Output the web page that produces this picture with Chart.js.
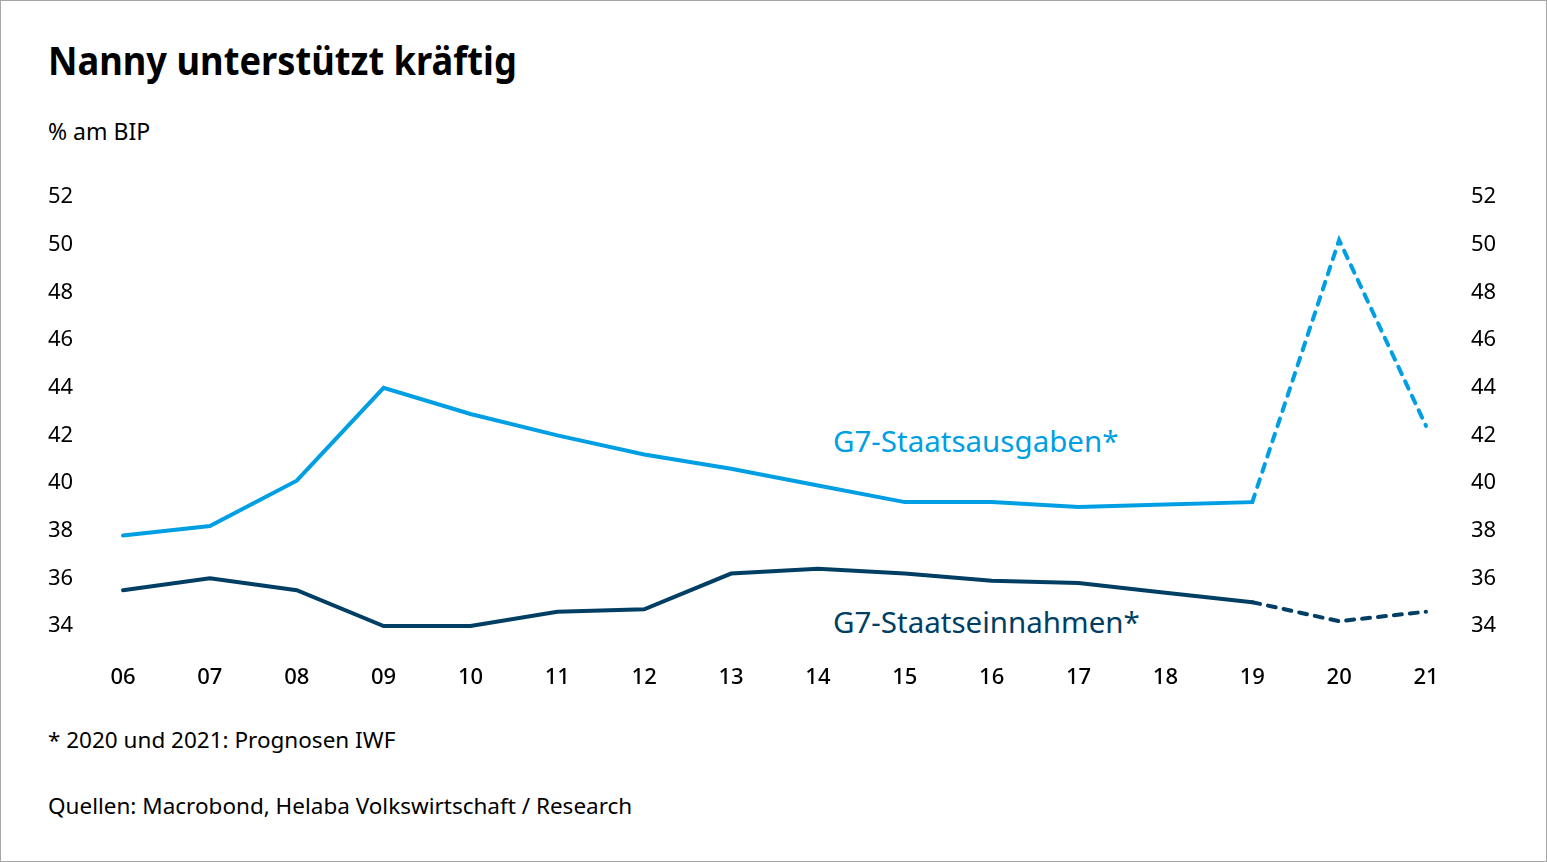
<!DOCTYPE html>
<html>
<head>
<meta charset="utf-8">
<script src="https://cdn.jsdelivr.net/npm/chart.js@4.4.1/dist/chart.umd.min.js"></script>
<style>
  html, body { margin: 0; padding: 0; background: #fff; }
  body {
    width: 1547px; height: 862px; position: relative; overflow: hidden;
    box-sizing: border-box; border: 1px solid #a6a6a6;
    font-family: "Noto Sans", sans-serif; color: #000;
  }
  .txt { position: absolute; white-space: nowrap; }
  #title { left: 47px; top: 32px; font-size: 39px; font-weight: 700; transform-origin: left top; transform: scaleX(0.93); }
  #unit { left: 47px; top: 114px; font-size: 23px; }
  #note { left: 47px; top: 723px; font-size: 22.5px; }
  #source { left: 47px; top: 789px; font-size: 22.5px; }
  .lbl { font-size: 29.5px; }
  #lblOut { left: 832px; top: 419px; color: #009fe3; }
  #lblIn { left: 832px; top: 600px; color: #003f63; }
  #wrap { position: absolute; left: 47px; top: 146px; width: 1483px; height: 559px; }
</style>
</head>
<body>
<div class="txt" id="title">Nanny unterstützt kräftig</div>
<div class="txt" id="unit">% am BIP</div>
<div class="txt lbl" id="lblOut">G7-Staatsausgaben*</div>
<div class="txt lbl" id="lblIn">G7-Staatseinnahmen*</div>
<div class="txt" id="note">* 2020 und 2021: Prognosen IWF</div>
<div class="txt" id="source">Quellen: Macrobond, Helaba Volkswirtschaft / Research</div>
<div id="wrap"><canvas id="chart"></canvas></div>
<script>
// Years (two-digit labels)
const years = ['06', '07', '08', '09', '10', '11', '12', '13', '14', '15', '16', '17', '18', '19', '20', '21'];

// G7 government spending and revenue, % of GDP (2020/21 = IMF forecasts)
const ausgaben = [37.8, 38.2, 40.1, 44.0, 42.9, 42.0, 41.2, 40.6, 39.9, 39.2, 39.2, 39.0, 39.1, 39.2, 50.2, 42.4];
const einnahmen = [35.5, 36.0, 35.5, 34.0, 34.0, 34.6, 34.7, 36.2, 36.4, 36.2, 35.9, 35.8, 35.4, 35.0, 34.2, 34.6];

// Index from which the forecast (dashed) part starts
const forecastFrom = 13;

const yTicks = [34, 36, 38, 40, 42, 44, 46, 48, 50, 52];

const colors = {
    light: '#009fe3',
    dark: '#003f63',
};

const dashForecast = ctx => ctx.p0DataIndex >= forecastFrom ? [8, 8] : undefined;

const tickFont = { family: 'Noto Sans', size: 22 };

new Chart(document.getElementById('chart'), {
    type: 'line',
    data: {
        labels: years,
        datasets: [
            {
                label: 'G7-Staatsausgaben*',
                data: ausgaben,
                borderColor: colors.light,
                borderWidth: 4,
                pointRadius: 0,
                borderCapStyle: 'round',
                segment: { borderDash: dashForecast },
                clip: false,
            },
            {
                label: 'G7-Staatseinnahmen*',
                data: einnahmen,
                borderColor: colors.dark,
                borderWidth: 4,
                pointRadius: 0,
                borderCapStyle: 'round',
                segment: { borderDash: dashForecast },
                clip: false,
            }
        ]
    },
    options: {
        responsive: true,
        maintainAspectRatio: false,
        animation: false,
        layout: { padding: { top: 28 } },
        plugins: {
            legend: { display: false },
            tooltip: { enabled: false }
        },
        scales: {
            x: {
                grid: { display: false },
                border: { display: false },
                ticks: {
                    color: '#000',
                    font: { family: 'Noto Sans', size: 22, weight: 500 },
                    padding: 31,
                    maxRotation: 0,
                    autoSkip: false
                },
                afterFit: s => { s.height = 80; }
            },
            y: {
                position: 'left',
                min: 34,
                max: 52,
                grid: { display: false },
                border: { display: false },
                afterBuildTicks: s => { s.ticks = yTicks.map(v => ({ value: v })); },
                ticks: { color: '#000', font: tickFont, crossAlign: 'far' },
                afterFit: s => { s.width = 75; }
            },
            y2: {
                position: 'right',
                min: 34,
                max: 52,
                grid: { display: false },
                border: { display: false },
                afterBuildTicks: s => { s.ticks = yTicks.map(v => ({ value: v })); },
                ticks: { color: '#000', font: tickFont, padding: 37 },
                afterFit: s => { s.width = 105; }
            }
        }
    }
});
</script>
</body>
</html>
